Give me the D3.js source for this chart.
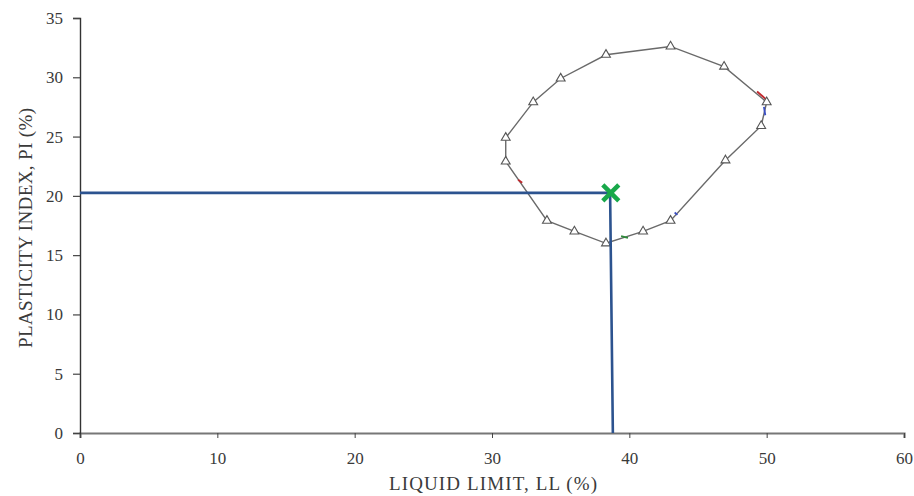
<!DOCTYPE html>
<html>
<head>
<meta charset="utf-8">
<script src="https://cdn.jsdelivr.net/npm/d3@7"></script>
<style>
  body { margin: 0; background: #fff; }
  svg text { font-family: "Liberation Serif", "DejaVu Serif", serif; }
</style>
</head>
<body>
<div id="chart"></div>
<script>
// Data
const ll = [43, 38.3, 35, 33, 31, 31, 34, 36, 38.3, 41, 43, 47, 49.6, 50, 46.9];
const pi = [32.6, 31.9, 29.9, 27.9, 24.9, 22.9, 17.9, 17, 16, 17, 17.9, 23, 25.9, 27.9, 30.9];
const markLL = 38.65;
const markPI = 20.25;
const dropLL = [38.6, 38.8];
const xTicks = [0, 10, 20, 30, 40, 50, 60];
const yTicks = [0, 5, 10, 15, 20, 25, 30, 35];
// little coloured bits along the loop: [ll0, pi0, ll1, pi1, colour]
const accents = [
  [49.3, 28.8, 50.0, 28.1, '#c0282d'],
  [31.9, 21.35, 32.2, 21.1, '#c0282d'],
  [43.3, 18.6, 43.5, 18.4, '#3b4fc4'],
  [49.8, 27.5, 49.9, 26.8, '#3b4fc4'],
  [39.4, 16.6, 39.9, 16.45, '#2e8b3a']
];

const width = 914, height = 496;
const margin = {top: 18, right: 10, bottom: 63, left: 80};

const svg = d3.select('#chart')
  .append('svg')
  .attr('width', width)
  .attr('height', height);

const x = d3.scaleLinear().domain([0, 60]).range([margin.left, 904]);
const y = d3.scaleLinear().domain([0, 35]).range([height - margin.bottom, margin.top]);

// x axis
svg.append('g')
  .attr('transform', `translate(0,${y(0)})`)
  .call(d3.axisBottom(x).tickValues(xTicks).tickSize(5).tickPadding(14))
  .call(g => g.select('.domain').attr('stroke', '#777').attr('stroke-width', 2.2))
  .call(g => g.selectAll('.tick line').attr('stroke', '#444'))
  .call(g => g.selectAll('.tick text').attr('font-size', 17).attr('fill', '#3a3a3a'));

// y axis
svg.append('g')
  .attr('transform', `translate(${x(0)},0)`)
  .call(d3.axisLeft(y).tickValues(yTicks).tickSize(7).tickPadding(10))
  .call(g => g.select('.domain').attr('stroke', '#333').attr('stroke-width', 1.4))
  .call(g => g.selectAll('.tick line').attr('stroke', '#444').attr('stroke-width', 1.2))
  .call(g => g.selectAll('.tick text').attr('font-size', 17).attr('fill', '#3a3a3a'));

// axis titles
svg.append('text')
  .attr('x', 493)
  .attr('y', 490)
  .attr('text-anchor', 'middle')
  .attr('font-size', 19)
  .attr('fill', '#3a3a3a')
  .attr('textLength', 208)
  .text('LIQUID LIMIT, LL (%)');

svg.append('text')
  .attr('transform', `translate(32,228) rotate(-90)`)
  .attr('text-anchor', 'middle')
  .attr('font-size', 19)
  .attr('fill', '#3a3a3a')
  .attr('textLength', 240)
  .text('PLASTICITY INDEX, PI (%)');

// closed loop
const pts = ll.map((d, i) => [d, pi[i]]);
svg.append('path')
  .datum(pts)
  .attr('fill', 'none')
  .attr('stroke', '#6a6a6a')
  .attr('stroke-width', 1.4)
  .attr('d', d3.line().x(d => x(d[0])).y(d => y(d[1])).curve(d3.curveLinearClosed));

svg.append('g')
  .selectAll('line')
  .data(accents)
  .join('line')
  .attr('x1', d => x(d[0])).attr('y1', d => y(d[1]))
  .attr('x2', d => x(d[2])).attr('y2', d => y(d[3]))
  .attr('stroke', d => d[4])
  .attr('stroke-width', 1.8);

svg.append('g')
  .selectAll('path')
  .data(pts)
  .join('path')
  .attr('transform', d => `translate(${x(d[0])},${y(d[1])})`)
  .attr('d', d3.symbol(d3.symbolTriangle, 34))
  .attr('fill', '#fff')
  .attr('stroke', '#555')
  .attr('stroke-width', 1.1);

// blue guide lines
svg.append('path')
  .attr('fill', 'none')
  .attr('stroke', '#2c538f')
  .attr('stroke-width', 2.6)
  .attr('d', d3.line()([
    [x(0), y(markPI)],
    [x(dropLL[0]), y(markPI)],
    [x(dropLL[1]), y(0)]
  ]));

// green cross
const cx = x(markLL), cy = y(markPI), s = 8;
svg.append('path')
  .attr('stroke', '#18a84a')
  .attr('stroke-width', 4.5)
  .attr('fill', 'none')
  .attr('d', `M${cx - s},${cy - s}L${cx + s},${cy + s}M${cx - s},${cy + s}L${cx + s},${cy - s}`);
</script>
</body>
</html>
